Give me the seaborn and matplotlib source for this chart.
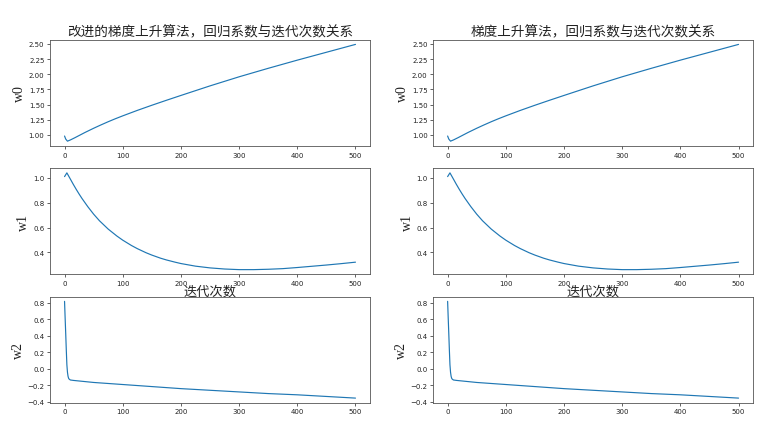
import matplotlib
matplotlib.use("Agg")
import matplotlib.pyplot as plt
import seaborn as sns
import pandas as pd

# ---- data ----
w0_iters = [0, 2, 5, 10, 18, 25, 35, 50, 62, 75, 87, 100, 125, 150, 175, 200, 250, 300, 350, 400, 450, 500]
w0_improved = [0.98, 0.93, 0.895, 0.915, 0.953, 0.988, 1.038, 1.108, 1.161, 1.216, 1.264, 1.313, 1.403, 1.488,
               1.570, 1.650, 1.808, 1.958, 2.098, 2.233, 2.363, 2.493]
w0_basic = [0.98, 0.93, 0.895, 0.915, 0.953, 0.988, 1.038, 1.108, 1.161, 1.216, 1.264, 1.313, 1.403, 1.488,
            1.570, 1.650, 1.808, 1.958, 2.098, 2.233, 2.363, 2.493]

w1_iters = [0, 4, 10, 15, 20, 25, 30, 40, 50, 60, 75, 90, 100, 115, 125, 140, 150, 165, 175, 190, 200, 225, 250,
            275, 300, 325, 350, 375, 400, 425, 450, 475, 500]
w1_improved = [1.01, 1.04, 0.99, 0.948, 0.908, 0.87, 0.834, 0.768, 0.708, 0.655, 0.588, 0.532, 0.499, 0.456,
               0.431, 0.398, 0.379, 0.354, 0.34, 0.322, 0.311, 0.29, 0.276, 0.267, 0.262, 0.262, 0.265, 0.27,
               0.279, 0.289, 0.299, 0.31, 0.322]
w1_basic = [1.01, 1.04, 0.99, 0.948, 0.908, 0.87, 0.834, 0.768, 0.708, 0.655, 0.588, 0.532, 0.499, 0.456,
            0.431, 0.398, 0.379, 0.354, 0.34, 0.322, 0.311, 0.29, 0.276, 0.267, 0.262, 0.262, 0.265, 0.27,
            0.279, 0.289, 0.299, 0.31, 0.322]

w2_iters = [0, 1, 2, 3, 4, 5, 6, 7, 8, 10, 15, 50, 100, 150, 200, 250, 300, 350, 400, 450, 500]
w2_improved = [0.82, 0.62, 0.43, 0.23, 0.05, -0.04, -0.09, -0.115, -0.125, -0.135, -0.14, -0.165, -0.19, -0.215,
               -0.24, -0.26, -0.28, -0.30, -0.315, -0.335, -0.355]
w2_basic = [0.82, 0.62, 0.43, 0.23, 0.05, -0.04, -0.09, -0.115, -0.125, -0.135, -0.14, -0.165, -0.19, -0.215,
            -0.24, -0.26, -0.28, -0.30, -0.315, -0.335, -0.355]

titles = ["改进的梯度上升算法，回归系数与迭代次数关系", "梯度上升算法，回归系数与迭代次数关系"]
ylabels = ["w0", "w1", "w2"]
xlabel_text = "迭代次数"
x_ticks = [0, 100, 200, 300, 400, 500]
y_ticks = [
    [1.00, 1.25, 1.50, 1.75, 2.00, 2.25, 2.50],
    [0.4, 0.6, 0.8, 1.0],
    [-0.4, -0.2, 0.0, 0.2, 0.4, 0.6, 0.8],
]

sns.set_style("ticks")
plt.rcParams["font.family"] = ["DejaVu Sans"]

fig, axes = plt.subplots(3, 2, figsize=(7.74, 4.27), dpi=100)
fig.subplots_adjust(left=0.0646, right=0.973, top=0.905, bottom=0.054, wspace=0.197, hspace=0.207)

cols = [
    [(w0_iters, w0_improved), (w1_iters, w1_improved), (w2_iters, w2_improved)],
    [(w0_iters, w0_basic), (w1_iters, w1_basic), (w2_iters, w2_basic)],
]

cjk = ["Noto Sans CJK SC", "DejaVu Sans"]
for c in range(2):
    for r in range(3):
        ax = axes[r, c]
        xs, ys = cols[c][r]
        df = pd.DataFrame({"iter": xs, "val": ys})
        sns.lineplot(data=df, x="iter", y="val", ax=ax, color="#1f77b4", linewidth=0.85)
        ax.set_xlabel("")
        ax.set_ylabel(ylabels[r], family=["Liberation Serif"], fontsize=10, labelpad=2, color="#222222")
        ax.set_xticks(x_ticks)
        ax.set_yticks(y_ticks[r])
        ax.tick_params(labelsize=5, length=2, width=0.5, pad=2, colors="#222222")
        for s in ax.spines.values():
            s.set_linewidth(0.6)
            s.set_color("#555555")
            s.set_visible(True)
    axes[0, c].set_title(titles[c], family=cjk, fontsize=9.8, pad=3, color="#222222")
    axes[1, c].set_xlabel(xlabel_text, family=cjk, fontsize=9.5, labelpad=-1, color="#222222")

fig.savefig("out.png", dpi=100, facecolor="white")
